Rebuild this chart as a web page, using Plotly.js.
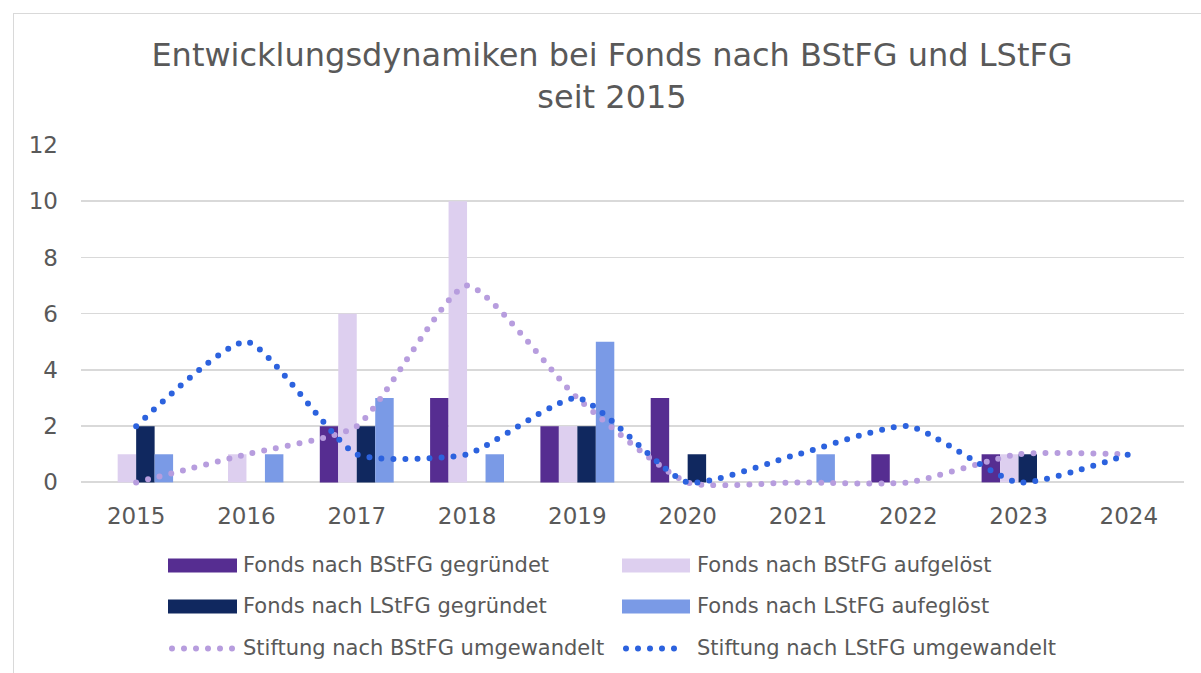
<!DOCTYPE html>
<html><head><meta charset="utf-8">
<script src="https://cdn.plot.ly/plotly-3.0.1.min.js"></script>
<style>
html,body{margin:0;padding:0;background:#fff;overflow:hidden}
#frame{position:absolute;left:13px;top:13px;width:1300px;height:800px;border:1.5px solid #d9d9d9;box-sizing:border-box}
#chart{position:absolute;left:0;top:0;width:1201px;height:673px}
.scatterlayer path.js-line, .shapelayer path{stroke-linecap:round}
</style></head><body>
<div id="frame"></div><div id="chart"></div>
<script>
const years = ['2015','2016','2017','2018','2019','2020','2021','2022','2023','2024'];
const bstfgGegruendet = [0,0,2,3,2,3,0,1,1,0];
const bstfgAufgeloest = [1,1,6,10,2,0,0,0,1,0];
const lstfgGegruendet = [2,0,2,0,2,1,0,0,1,0];
const lstfgAufgeloest = [1,1,3,1,5,0,1,0,0,0];
const stiftungBStFG = [0,1,2,7,3,0,0,0,1,1];
const stiftungLStFG = [2,5,1,1,3,0,1,2,0,1];
const seriesNames = ['Fonds nach BStFG gegründet','Fonds nach BStFG aufgelöst','Fonds nach LStFG gegründet','Fonds nach LStFG aufeglöst','Stiftung nach BStFG umgewandelt','Stiftung nach LStFG umgewandelt'];
const colors = ['#562D91','#DDCFEF','#10285F','#7A9AE6','#B79DDE','#2C62DE'];

const W = 1201, H = 673;
const L = 81, R = 1184, T = 144.7, B0 = 482;
const yMin = -0.2, yMax = 12;
const unit = (B0 - T) / yMax;
const B = B0 - yMin * unit; // bottom of plot area in px
const px = x => (x - L) / (R - L);
const py = y => (B - y) / (B - T);

const barData = [bstfgGegruendet, bstfgAufgeloest, lstfgGegruendet, lstfgAufgeloest];
const traces = barData.map((d,i) => ({
  type:'bar', x: years, y: d, name: seriesNames[i],
  marker:{color: colors[i], line:{width:0}}, showlegend:false
}));
[stiftungBStFG, stiftungLStFG].forEach((d,j) => {
  traces.push({
    type:'scatter', mode:'lines', x: years, y: d, name: seriesNames[4+j],
    line:{color: colors[4+j], width:6, dash:'0px,12px', shape:'spline', smoothing:0.55},
    showlegend:false
  });
});

// custom legend
const shapes = [], annotations = [];
const legRows = [565, 606, 648];
const legCols = [{s0:168, s1:237, t:243}, {s0:622, s1:690, t:697}];
seriesNames.forEach((name, i) => {
  const r = Math.floor(i/2), c = i % 2;
  const yc = legRows[r], col = legCols[c];
  if (i < 4) {
    shapes.push({type:'rect', xref:'paper', yref:'paper', x0:px(col.s0), x1:px(col.s1),
      y0:py(yc+7), y1:py(yc-7), fillcolor:colors[i], line:{width:0}});
  } else {
    shapes.push({type:'line', xref:'paper', yref:'paper', x0:px(col.s0+4), x1:px(col.s1-4),
      y0:py(yc), y1:py(yc), line:{color:colors[i], width:6, dash:'0px,12px'}});
  }
  annotations.push({xref:'paper', yref:'paper', x:px(col.t-2), y:py(yc), xanchor:'left', yanchor:'middle',
    text:name, showarrow:false, font:{family:'DejaVu Sans', size:21, color:'#595959'}});
});

const layout = {
  width: W, height: H,
  margin:{l:L, r:W-R, t:T, b:H-B, pad:0},
  paper_bgcolor:'rgba(0,0,0,0)', plot_bgcolor:'rgba(0,0,0,0)',
  barmode:'group', bargap:0.33, bargroupgap:0,
  title:{text:'Entwicklungsdynamiken bei Fonds nach BStFG und LStFG<br>seit 2015',
    font:{family:'DejaVu Sans', size:32, color:'#595959'},
    xref:'container', yref:'container', x:612/W, xanchor:'center', y:1-66/H, yanchor:'top'},
  xaxis:{type:'category', showgrid:false, zeroline:false, showline:false, ticks:'',
    tickfont:{family:'DejaVu Sans', size:23, color:'#595959'}, ticklabelstandoff:12},
  yaxis:{range:[yMin,yMax], tick0:0, dtick:2, showgrid:true, gridcolor:'#d9d9d9', gridwidth:1.5,
    zeroline:true, zerolinecolor:'#d9d9d9', zerolinewidth:2, showline:false, ticks:'',
    tickfont:{family:'DejaVu Sans', size:23, color:'#595959'}, ticklabelstandoff:22},
  shapes: shapes, annotations: annotations, showlegend:false
};
Plotly.newPlot('chart', traces, layout, {staticPlot:true, displayModeBar:false});
</script></body></html>
